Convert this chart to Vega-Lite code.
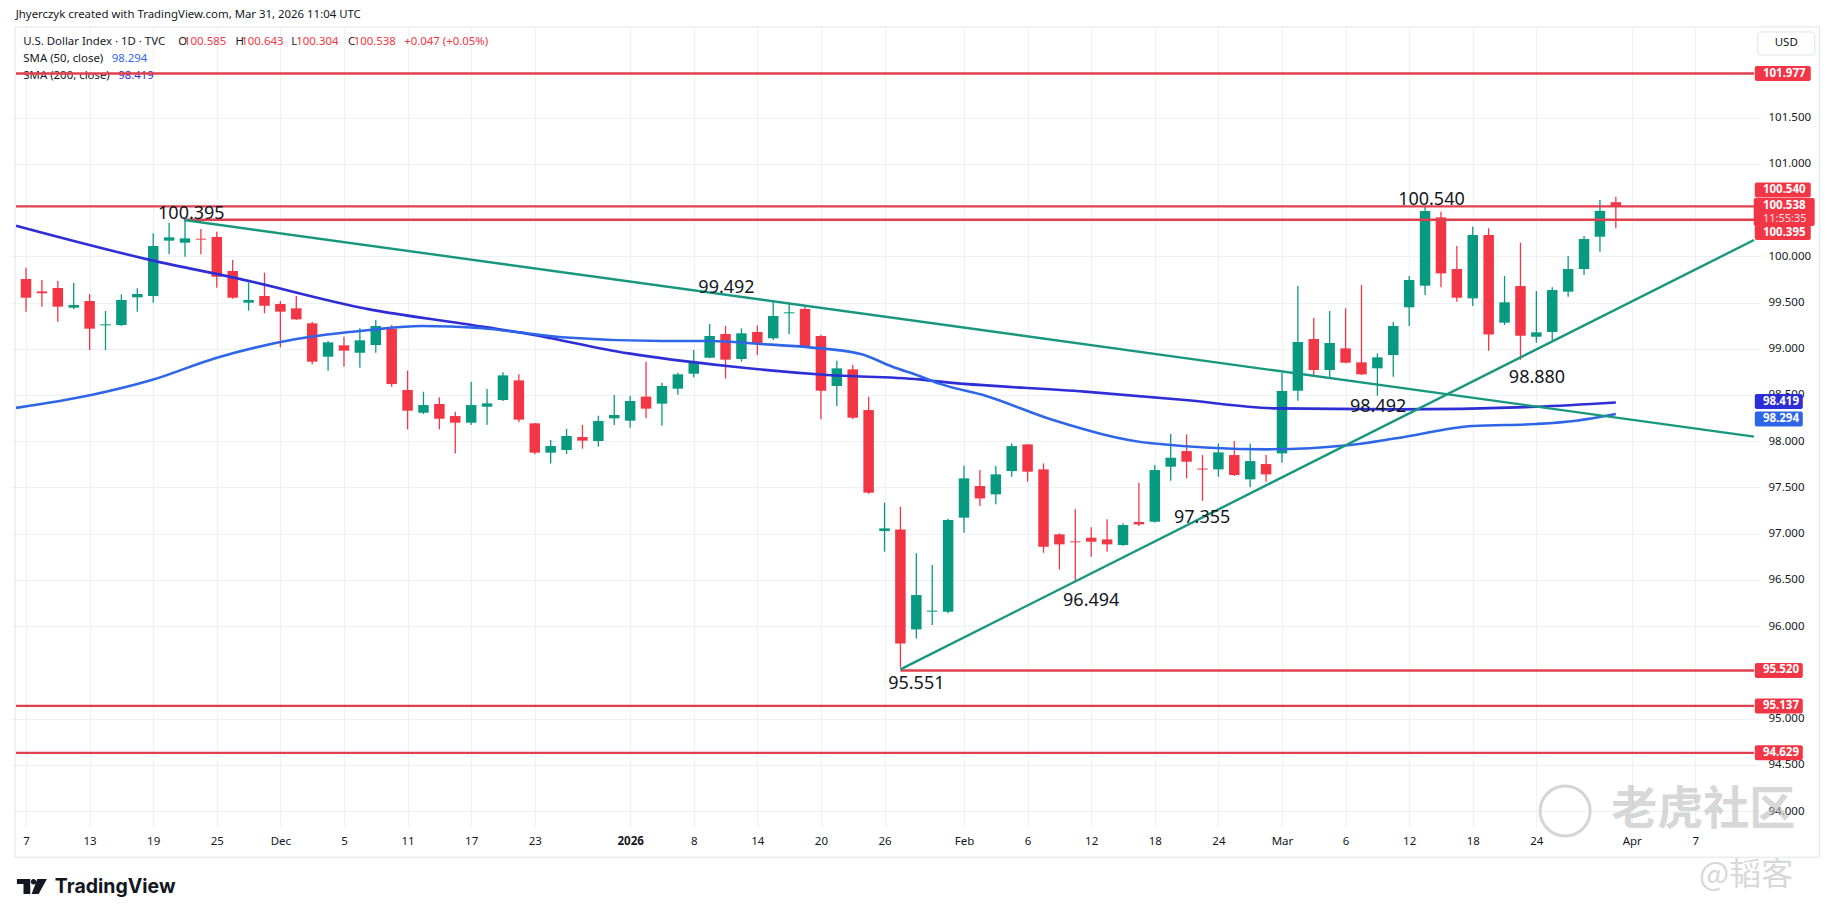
{
  "$schema": "https://vega.github.io/schema/vega-lite/v6.json",
  "width": 1748,
  "height": 800,
  "autosize": {"type": "none"},
  "padding": {"left": 11, "top": 27, "right": 76, "bottom": 90},
  "background": "#ffffff",
  "config": {"view": {"stroke": null}, "font": "Noto Sans", "text": {"font": "Noto Sans"}},
  "resolve": {"axis": {"x": "independent", "y": "independent"}},
  "datasets": {
    "candles": [
      {"i":0,"o":99.754,"h":99.877,"l":99.401,"c":99.552},
      {"i":1,"o":99.62,"h":99.743,"l":99.455,"c":99.6},
      {"i":2,"o":99.657,"h":99.733,"l":99.293,"c":99.455},
      {"i":3,"o":99.444,"h":99.711,"l":99.426,"c":99.473},
      {"i":4,"o":99.516,"h":99.592,"l":98.986,"c":99.217},
      {"i":5,"o":99.253,"h":99.408,"l":98.986,"c":99.264},
      {"i":6,"o":99.257,"h":99.588,"l":99.246,"c":99.527},
      {"i":7,"o":99.556,"h":99.653,"l":99.401,"c":99.592},
      {"i":8,"o":99.57,"h":100.248,"l":99.498,"c":100.111},
      {"i":9,"o":100.169,"h":100.364,"l":100.025,"c":100.205},
      {"i":10,"o":100.147,"h":100.395,"l":99.996,"c":100.194},
      {"i":11,"o":100.19,"h":100.295,"l":100.021,"c":100.18},
      {"i":12,"o":100.209,"h":100.266,"l":99.66,"c":99.779},
      {"i":13,"o":99.841,"h":99.96,"l":99.54,"c":99.552},
      {"i":14,"o":99.498,"h":99.715,"l":99.412,"c":99.527},
      {"i":15,"o":99.57,"h":99.823,"l":99.383,"c":99.466},
      {"i":16,"o":99.484,"h":99.516,"l":99.015,"c":99.401},
      {"i":17,"o":99.437,"h":99.57,"l":99.31,"c":99.318},
      {"i":18,"o":99.275,"h":99.289,"l":98.831,"c":98.86},
      {"i":19,"o":98.914,"h":99.083,"l":98.763,"c":99.069},
      {"i":20,"o":99.037,"h":99.13,"l":98.806,"c":98.979},
      {"i":21,"o":98.957,"h":99.221,"l":98.795,"c":99.091},
      {"i":22,"o":99.04,"h":99.311,"l":98.957,"c":99.246},
      {"i":23,"o":99.217,"h":99.257,"l":98.59,"c":98.618},
      {"i":24,"o":98.554,"h":98.763,"l":98.128,"c":98.33},
      {"i":25,"o":98.308,"h":98.535,"l":98.294,"c":98.391},
      {"i":26,"o":98.402,"h":98.474,"l":98.128,"c":98.243},
      {"i":27,"o":98.272,"h":98.319,"l":97.868,"c":98.2},
      {"i":28,"o":98.2,"h":98.644,"l":98.175,"c":98.391},
      {"i":29,"o":98.373,"h":98.565,"l":98.179,"c":98.409},
      {"i":30,"o":98.445,"h":98.745,"l":98.435,"c":98.712},
      {"i":31,"o":98.658,"h":98.723,"l":98.204,"c":98.233},
      {"i":32,"o":98.193,"h":98.197,"l":97.858,"c":97.876},
      {"i":33,"o":97.876,"h":98.013,"l":97.76,"c":97.948},
      {"i":34,"o":97.905,"h":98.132,"l":97.861,"c":98.056},
      {"i":35,"o":98.045,"h":98.175,"l":97.919,"c":98.006},
      {"i":36,"o":98.002,"h":98.276,"l":97.941,"c":98.218},
      {"i":37,"o":98.247,"h":98.5,"l":98.175,"c":98.283},
      {"i":38,"o":98.222,"h":98.492,"l":98.146,"c":98.435},
      {"i":39,"o":98.482,"h":98.86,"l":98.247,"c":98.352},
      {"i":40,"o":98.406,"h":98.633,"l":98.168,"c":98.597},
      {"i":41,"o":98.568,"h":98.741,"l":98.503,"c":98.723},
      {"i":42,"o":98.73,"h":98.986,"l":98.691,"c":98.849},
      {"i":43,"o":98.903,"h":99.268,"l":98.896,"c":99.138},
      {"i":44,"o":99.159,"h":99.246,"l":98.676,"c":98.882},
      {"i":45,"o":98.889,"h":99.221,"l":98.86,"c":99.167},
      {"i":46,"o":99.181,"h":99.25,"l":98.932,"c":99.051},
      {"i":47,"o":99.113,"h":99.509,"l":99.095,"c":99.354},
      {"i":48,"o":99.383,"h":99.492,"l":99.159,"c":99.394},
      {"i":49,"o":99.43,"h":99.473,"l":99.022,"c":99.03},
      {"i":50,"o":99.138,"h":99.15,"l":98.236,"c":98.546},
      {"i":51,"o":98.597,"h":98.871,"l":98.381,"c":98.788},
      {"i":52,"o":98.777,"h":98.824,"l":98.24,"c":98.254},
      {"i":53,"o":98.337,"h":98.481,"l":97.43,"c":97.443},
      {"i":54,"o":97.028,"h":97.335,"l":96.805,"c":97.057},
      {"i":55,"o":97.046,"h":97.291,"l":95.551,"c":95.813},
      {"i":56,"o":95.964,"h":96.787,"l":95.867,"c":96.336},
      {"i":57,"o":96.156,"h":96.661,"l":96.012,"c":96.167},
      {"i":58,"o":96.156,"h":97.16,"l":96.14,"c":97.147},
      {"i":59,"o":97.173,"h":97.735,"l":97.01,"c":97.598},
      {"i":60,"o":97.515,"h":97.688,"l":97.298,"c":97.381},
      {"i":61,"o":97.425,"h":97.731,"l":97.317,"c":97.641},
      {"i":62,"o":97.677,"h":97.976,"l":97.616,"c":97.947},
      {"i":63,"o":97.965,"h":97.969,"l":97.562,"c":97.67},
      {"i":64,"o":97.695,"h":97.76,"l":96.793,"c":96.858},
      {"i":65,"o":96.992,"h":97.003,"l":96.613,"c":96.884},
      {"i":66,"o":96.916,"h":97.263,"l":96.494,"c":96.906},
      {"i":67,"o":96.956,"h":97.068,"l":96.751,"c":96.913},
      {"i":68,"o":96.938,"h":97.155,"l":96.805,"c":96.884},
      {"i":69,"o":96.877,"h":97.111,"l":96.866,"c":97.093},
      {"i":70,"o":97.126,"h":97.551,"l":97.083,"c":97.1},
      {"i":71,"o":97.129,"h":97.742,"l":97.12,"c":97.688},
      {"i":72,"o":97.724,"h":98.077,"l":97.573,"c":97.821},
      {"i":73,"o":97.893,"h":98.074,"l":97.598,"c":97.778},
      {"i":74,"o":97.704,"h":97.85,"l":97.355,"c":97.693},
      {"i":75,"o":97.695,"h":97.976,"l":97.616,"c":97.879},
      {"i":76,"o":97.85,"h":98.002,"l":97.623,"c":97.634},
      {"i":77,"o":97.587,"h":97.976,"l":97.501,"c":97.785},
      {"i":78,"o":97.753,"h":97.85,"l":97.562,"c":97.641},
      {"i":79,"o":97.868,"h":98.741,"l":97.767,"c":98.543},
      {"i":80,"o":98.546,"h":99.678,"l":98.438,"c":99.073},
      {"i":81,"o":99.105,"h":99.336,"l":98.716,"c":98.77},
      {"i":82,"o":98.77,"h":99.408,"l":98.68,"c":99.062},
      {"i":83,"o":99.004,"h":99.437,"l":98.842,"c":98.849},
      {"i":84,"o":98.853,"h":99.689,"l":98.716,"c":98.723},
      {"i":85,"o":98.788,"h":98.95,"l":98.492,"c":98.907},
      {"i":86,"o":98.932,"h":99.293,"l":98.698,"c":99.246},
      {"i":87,"o":99.448,"h":99.786,"l":99.246,"c":99.743},
      {"i":88,"o":99.682,"h":100.54,"l":99.581,"c":100.49},
      {"i":89,"o":100.421,"h":100.482,"l":99.664,"c":99.815},
      {"i":90,"o":99.862,"h":100.111,"l":99.509,"c":99.552},
      {"i":91,"o":99.545,"h":100.32,"l":99.462,"c":100.23},
      {"i":92,"o":100.23,"h":100.302,"l":98.979,"c":99.155},
      {"i":93,"o":99.282,"h":99.786,"l":99.257,"c":99.502},
      {"i":94,"o":99.678,"h":100.147,"l":98.88,"c":99.141},
      {"i":95,"o":99.13,"h":99.624,"l":99.065,"c":99.177},
      {"i":96,"o":99.181,"h":99.664,"l":99.076,"c":99.635},
      {"i":97,"o":99.617,"h":100.003,"l":99.563,"c":99.862},
      {"i":98,"o":99.862,"h":100.219,"l":99.797,"c":100.187},
      {"i":99,"o":100.212,"h":100.608,"l":100.05,"c":100.491},
      {"i":100,"o":100.585,"h":100.643,"l":100.304,"c":100.538}
    ],
    "sma": [
      {"k":"sma200","i":-0.63,"v":100.33},
      {"k":"sma200","i":8,"v":99.953},
      {"k":"sma200","i":13.3,"v":99.761},
      {"k":"sma200","i":21.6,"v":99.426},
      {"k":"sma200","i":27.5,"v":99.27},
      {"k":"sma200","i":31.6,"v":99.16},
      {"k":"sma200","i":37.9,"v":98.95},
      {"k":"sma200","i":44.1,"v":98.813},
      {"k":"sma200","i":50.4,"v":98.716},
      {"k":"sma200","i":56.2,"v":98.669},
      {"k":"sma200","i":57.5,"v":98.644},
      {"k":"sma200","i":66.6,"v":98.536},
      {"k":"sma200","i":72.9,"v":98.445},
      {"k":"sma200","i":78.7,"v":98.355},
      {"k":"sma200","i":86.2,"v":98.344},
      {"k":"sma200","i":95,"v":98.373},
      {"k":"sma200","i":100,"v":98.419},
      {"k":"sma50","i":-0.63,"v":98.36},
      {"k":"sma50","i":4.1,"v":98.499},
      {"k":"sma50","i":7.9,"v":98.661},
      {"k":"sma50","i":12,"v":98.903},
      {"k":"sma50","i":17,"v":99.105},
      {"k":"sma50","i":21.6,"v":99.203},
      {"k":"sma50","i":24.9,"v":99.246},
      {"k":"sma50","i":28.7,"v":99.221},
      {"k":"sma50","i":33.7,"v":99.124},
      {"k":"sma50","i":40,"v":99.084},
      {"k":"sma50","i":43.1,"v":99.084},
      {"k":"sma50","i":46.2,"v":99.051},
      {"k":"sma50","i":49.3,"v":99.015},
      {"k":"sma50","i":52.5,"v":98.943},
      {"k":"sma50","i":54.5,"v":98.806},
      {"k":"sma50","i":56.2,"v":98.705},
      {"k":"sma50","i":57.5,"v":98.62},
      {"k":"sma50","i":60.4,"v":98.489},
      {"k":"sma50","i":64.6,"v":98.229},
      {"k":"sma50","i":70.8,"v":97.977},
      {"k":"sma50","i":78.1,"v":97.912},
      {"k":"sma50","i":83.3,"v":97.959},
      {"k":"sma50","i":86.2,"v":98.031},
      {"k":"sma50","i":91,"v":98.164},
      {"k":"sma50","i":95,"v":98.186},
      {"k":"sma50","i":97.5,"v":98.222},
      {"k":"sma50","i":100,"v":98.294}
    ],
    "trend": [
      {"t":"down","i":9.94,"v":100.392},
      {"t":"down","i":108.69,"v":98.05},
      {"t":"up","i":55,"v":95.532},
      {"t":"up","i":108.69,"v":100.176}
    ],
    "levels": [
      {"p":101.977,"s":-0.63},
      {"p":100.54,"s":-0.63},
      {"p":100.395,"s":10},
      {"p":95.52,"s":55},
      {"p":95.137,"s":-0.63},
      {"p":94.629,"s":-0.63}
    ],
    "pivots": [
      {"label":"100.395","i":10.4,"v":100.4},
      {"label":"99.492","i":44.06,"v":99.6},
      {"label":"95.551","i":56,"v":95.32},
      {"label":"96.494","i":67,"v":96.217},
      {"label":"97.355","i":73.98,"v":97.118},
      {"label":"98.492","i":85.05,"v":98.315},
      {"label":"98.880","i":95.04,"v":98.626},
      {"label":"100.540","i":88.4,"v":100.555}
    ],
    "boxes": [
      {"label":"101.977","v":101.977,"k":"level"},
      {"label":"100.540","v":100.717,"k":"level"},
      {"label":"100.395","v":100.257,"k":"level"},
      {"label":"98.419","v":98.428,"k":"sma200"},
      {"label":"98.294","v":98.24,"k":"sma50"},
      {"label":"95.520","v":95.52,"k":"level"},
      {"label":"95.137","v":95.137,"k":"level"},
      {"label":"94.629","v":94.629,"k":"level"}
    ],
    "header": [
      {"t":"Jhyerczyk created with TradingView.com, Mar 31, 2026 11:04 UTC","i":-0.65,"v":102.61,"k":"text"},
      {"t":"U.S. Dollar Index · 1D · TVC","i":-0.167,"v":102.318,"k":"text"},
      {"t":"O","i":9.58,"v":102.318,"k":"text"},
      {"t":"100.585","i":9.94,"v":102.318,"k":"level"},
      {"t":"H","i":13.18,"v":102.318,"k":"text"},
      {"t":"100.643","i":13.54,"v":102.318,"k":"level"},
      {"t":"L","i":16.69,"v":102.318,"k":"text"},
      {"t":"100.304","i":17.0,"v":102.318,"k":"level"},
      {"t":"C","i":20.25,"v":102.318,"k":"text"},
      {"t":"100.538","i":20.61,"v":102.318,"k":"level"},
      {"t":"+0.047 (+0.05%)","i":23.79,"v":102.318,"k":"level"},
      {"t":"SMA (50, close)","i":-0.167,"v":102.134,"k":"text"},
      {"t":"98.294","i":5.39,"v":102.134,"k":"sma50"},
      {"t":"SMA (200, close)","i":-0.167,"v":101.95,"k":"text"},
      {"t":"98.419","i":5.8,"v":101.95,"k":"sma200"}
    ]
  },
  "layer": [
    {
      "data": {"name": "header"},
      "mark": {"type": "text", "align": "left", "baseline": "middle", "fontSize": 11.4},
      "encoding": {
        "x": {"field": "i", "type": "quantitative", "axis": null},
        "y": {"field": "v", "type": "quantitative", "axis": null},
        "text": {"field": "t"},
        "color": {"field": "k", "type": "nominal", "legend": null,
          "scale": {"domain": ["text", "level", "sma50", "sma200"], "range": ["#131722", "#F23645", "#2f66e8", "#2e2ed6"]}}
      }
    },
    {
      "data": {"name": "candles"},
      "mark": {"type": "rule", "strokeWidth": 1.3},
      "encoding": {
        "x": {"field": "i", "type": "quantitative",
          "scale": {"domain": [-0.63, 108.69], "nice": false, "zero": false},
          "axis": {"title": null, "orient": "bottom", "domain": false, "ticks": false,
            "grid": true, "gridColor": "#eef1f6", "gridWidth": 1,
            "values": [0,4,8,12,16,20,24,28,32,38,42,46,50,54,59,63,67,71,75,79,83,87,91,95,101,105],
            "labelExpr": "['7','13','19','25','Dec','5','11','17','23','2026','8','14','20','26','Feb','6','12','18','24','Mar','6','12','18','24','Apr','7'][indexof([0,4,8,12,16,20,24,28,32,38,42,46,50,54,59,63,67,71,75,79,83,87,91,95,101,105], datum.value)]",
            "labelFontWeight": {"condition": {"test": "datum.value == 38", "value": "bold"}, "value": "normal"},
            "labelFontSize": 11.5, "labelColor": "#131722", "labelFont": "Noto Sans",
            "labelPadding": 8, "labelFlush": false, "labelOverlap": false}},
        "y": {"field": "l", "type": "quantitative",
          "scale": {"domain": [93.827, 102.48], "nice": false, "zero": false},
          "axis": {"title": null, "orient": "right", "domain": false, "ticks": false,
            "grid": true, "gridColor": "#eef1f6", "gridWidth": 1,
            "values": [94, 94.5, 95, 96, 96.5, 97, 97.5, 98, 98.5, 99, 99.5, 100, 101, 101.5],
            "format": ".3f", "labelAlign": "left", "labelBaseline": "middle", "labelPadding": 9,
            "labelFontSize": 11.5, "labelColor": "#131722", "labelFont": "Noto Sans",
            "labelFlush": false, "labelOverlap": false}},
        "y2": {"field": "h"},
        "color": {"condition": {"test": "datum.c >= datum.o", "value": "#089981"}, "value": "#F23645"}
      }
    },
    {
      "data": {"name": "candles"},
      "mark": {"type": "bar", "width": 10.5},
      "encoding": {
        "x": {"field": "i", "type": "quantitative", "axis": null},
        "y": {"field": "o", "type": "quantitative", "axis": null},
        "y2": {"field": "c"},
        "color": {"condition": {"test": "datum.c >= datum.o", "value": "#089981"}, "value": "#F23645"}
      }
    },
    {
      "data": {"name": "sma"},
      "mark": {"type": "line", "strokeWidth": 2.6, "interpolate": "monotone"},
      "encoding": {
        "x": {"field": "i", "type": "quantitative", "axis": null},
        "y": {"field": "v", "type": "quantitative", "axis": null},
        "color": {"field": "k", "type": "nominal", "legend": null}
      }
    },
    {
      "data": {"name": "levels"},
      "mark": {"type": "rule", "strokeWidth": 2.4, "color": "#e0404e"},
      "encoding": {
        "x": {"field": "s", "type": "quantitative", "axis": null},
        "x2": {"datum": 108.69},
        "y": {"field": "p", "type": "quantitative", "axis": null}
      }
    },
    {
      "data": {"name": "trend"},
      "mark": {"type": "line", "strokeWidth": 2.4, "color": "#17977f"},
      "encoding": {
        "x": {"field": "i", "type": "quantitative", "axis": null},
        "y": {"field": "v", "type": "quantitative", "axis": null},
        "detail": {"field": "t"}
      }
    },
    {
      "data": {"name": "pivots"},
      "mark": {"type": "text", "align": "center", "baseline": "alphabetic", "fontSize": 18, "color": "#131722"},
      "encoding": {
        "x": {"field": "i", "type": "quantitative", "axis": null},
        "y": {"field": "v", "type": "quantitative", "axis": null},
        "text": {"field": "label"}
      }
    },
    {
      "data": {"values": [{"label": "100.538", "sub": "11:55:35", "v": 100.479}]},
      "layer": [
        {
          "mark": {"type": "tick", "orient": "horizontal", "size": 61, "thickness": 28, "cornerRadius": 2, "opacity": 1, "color": "#F23645"},
          "encoding": {
            "x": {"datum": 110.59, "type": "quantitative", "axis": null},
            "y": {"field": "v", "type": "quantitative", "axis": null}
          }
        },
        {
          "mark": {"type": "text", "align": "left", "baseline": "middle", "fontSize": 11.5, "fontWeight": "bold", "color": "#ffffff"},
          "encoding": {
            "x": {"datum": 109.25, "type": "quantitative", "axis": null},
            "y": {"datum": 100.545, "type": "quantitative", "axis": null},
            "text": {"field": "label"}
          }
        },
        {
          "mark": {"type": "text", "align": "left", "baseline": "middle", "fontSize": 11, "color": "#ffffff", "opacity": 0.85},
          "encoding": {
            "x": {"datum": 109.25, "type": "quantitative", "axis": null},
            "y": {"datum": 100.405, "type": "quantitative", "axis": null},
            "text": {"field": "sub"}
          }
        }
      ]
    },
    {
      "data": {"name": "boxes"},
      "transform": [{"filter": "length(datum.label) == 7"}],
      "mark": {"type": "tick", "orient": "horizontal", "size": 56, "thickness": 15, "cornerRadius": 2, "opacity": 1},
      "encoding": {
        "x": {"datum": 110.5, "type": "quantitative", "axis": null},
        "y": {"field": "v", "type": "quantitative", "axis": null},
        "color": {"field": "k", "type": "nominal", "legend": null}
      }
    },
    {
      "data": {"name": "boxes"},
      "transform": [{"filter": "length(datum.label) < 7"}],
      "mark": {"type": "tick", "orient": "horizontal", "size": 48, "thickness": 15, "cornerRadius": 2, "opacity": 1},
      "encoding": {
        "x": {"datum": 110.25, "type": "quantitative", "axis": null},
        "y": {"field": "v", "type": "quantitative", "axis": null},
        "color": {"field": "k", "type": "nominal", "legend": null}
      }
    },
    {
      "data": {"name": "boxes"},
      "mark": {"type": "text", "align": "left", "baseline": "middle", "fontSize": 11.5, "fontWeight": "bold", "color": "#ffffff"},
      "encoding": {
        "x": {"datum": 109.25, "type": "quantitative", "axis": null},
        "y": {"field": "v", "type": "quantitative", "axis": null},
        "text": {"field": "label"}
      }
    },
    {
      "data": {"values": [{"label": "USD"}]},
      "layer": [
        {
          "mark": {"type": "tick", "orient": "horizontal", "size": 57, "thickness": 23, "cornerRadius": 3, "opacity": 1, "fill": "#ffffff", "stroke": "#e0e3eb", "strokeWidth": 1},
          "encoding": {
            "x": {"datum": 110.72, "type": "quantitative", "axis": null},
            "y": {"datum": 102.302, "type": "quantitative", "axis": null}
          }
        },
        {
          "mark": {"type": "text", "align": "center", "baseline": "middle", "fontSize": 11.5, "color": "#131722"},
          "encoding": {
            "x": {"datum": 110.72, "type": "quantitative", "axis": null},
            "y": {"datum": 102.302, "type": "quantitative", "axis": null},
            "text": {"field": "label"}
          }
        }
      ]
    },
    {
      "data": {"values": [{}]},
      "layer": [
        {
          "mark": {"type": "rule", "color": "#e0e3eb", "strokeWidth": 1},
          "encoding": {
            "x": {"datum": -0.69, "type": "quantitative", "axis": null},
            "x2": {"datum": 112.82},
            "y": {"datum": 93.5, "type": "quantitative", "axis": null}
          }
        },
        {
          "mark": {"type": "rule", "color": "#e0e3eb", "strokeWidth": 1},
          "encoding": {
            "x": {"datum": -0.69, "type": "quantitative", "axis": null},
            "x2": {"datum": 112.82},
            "y": {"datum": 102.48, "type": "quantitative", "axis": null}
          }
        },
        {
          "mark": {"type": "rule", "color": "#e0e3eb", "strokeWidth": 1},
          "encoding": {
            "x": {"datum": -0.69, "type": "quantitative", "axis": null},
            "y": {"datum": 93.5, "type": "quantitative", "axis": null},
            "y2": {"datum": 102.48}
          }
        },
        {
          "mark": {"type": "rule", "color": "#e0e3eb", "strokeWidth": 1},
          "encoding": {
            "x": {"datum": 112.82, "type": "quantitative", "axis": null},
            "y": {"datum": 93.5, "type": "quantitative", "axis": null},
            "y2": {"datum": 102.48}
          }
        }
      ]
    },
    {
      "data": {"values": [{"brand": "TradingView", "wm": "老虎社区", "wm2": "@韬客"}]},
      "layer": [
        {
          "mark": {"type": "point", "filled": true, "opacity": 1, "color": "#131722", "size": 900,
            "shape": "M-1,-0.5 L-0.11,-0.5 L-0.11,0.5 L-0.56,0.5 L-0.56,-0.17 L-1,-0.17 Z M-0.07,-0.32 A0.18,0.18 0 1,0 0.29,-0.32 A0.18,0.18 0 1,0 -0.07,-0.32 Z M0.36,-0.5 L1,-0.5 L0.45,0.5 L-0.02,0.5 Z"},
          "encoding": {
            "x": {"datum": 0.37, "type": "quantitative", "axis": null},
            "y": {"datum": 93.183, "type": "quantitative", "axis": null}
          }
        },
        {
          "mark": {"type": "text", "align": "left", "baseline": "middle", "font": "Inter", "fontSize": 19.5, "fontWeight": "bold", "color": "#131722"},
          "encoding": {
            "x": {"datum": 1.81, "type": "quantitative", "axis": null},
            "y": {"datum": 93.178, "type": "quantitative", "axis": null},
            "text": {"field": "brand"}
          }
        },
        {
          "mark": {"type": "point", "filled": false, "shape": "circle", "size": 2500, "color": "#c4c4c4", "strokeWidth": 3, "opacity": 0.7},
          "encoding": {
            "x": {"datum": 96.81, "type": "quantitative", "axis": null},
            "y": {"datum": 94.0, "type": "quantitative", "axis": null}
          }
        },
        {
          "mark": {"type": "text", "align": "center", "baseline": "middle", "font": "Noto Sans CJK SC", "fontSize": 46, "fontWeight": "bold", "color": "#bdbdbd", "opacity": 0.6},
          "encoding": {
            "x": {"datum": 105.5, "type": "quantitative", "axis": null},
            "y": {"datum": 94.011, "type": "quantitative", "axis": null},
            "text": {"field": "wm"}
          }
        },
        {
          "mark": {"type": "text", "align": "center", "baseline": "middle", "font": "Noto Sans CJK SC", "fontSize": 32, "color": "#c4c4c4", "opacity": 0.65},
          "encoding": {
            "x": {"datum": 108.19, "type": "quantitative", "axis": null},
            "y": {"datum": 93.31, "type": "quantitative", "axis": null},
            "text": {"field": "wm2"}
          }
        }
      ]
    }
  ]
}
